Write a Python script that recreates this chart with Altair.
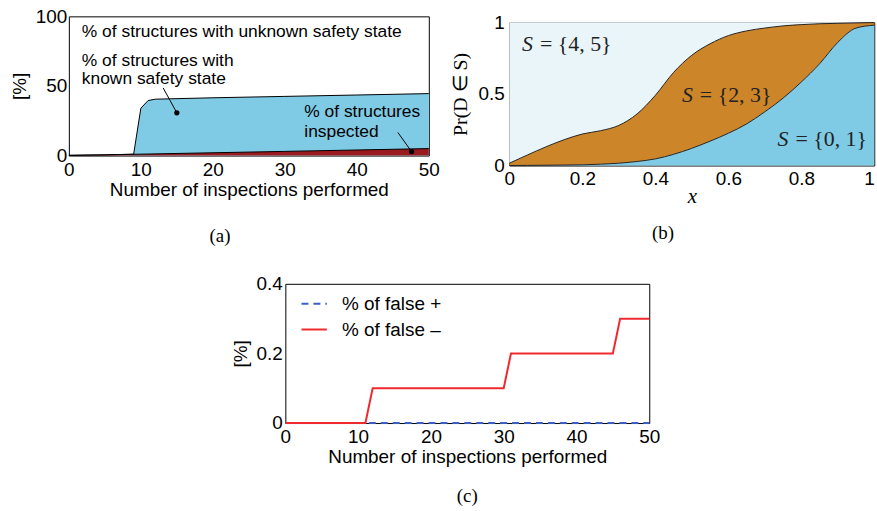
import altair as alt
import pandas as pd

# ---------------- data ----------------
# (a) structures
a_x = [0, 5, 9, 10, 11, 12, 20, 30, 40, 50]
a_known = [0.3, 0.5, 1.0, 34.0, 39.5, 40.5, 41.5, 42.5, 43.5, 44.5]
a_insp_x = [0, 10, 20, 30, 40, 50]
a_insp = [0.0, 1.0, 2.0, 3.0, 4.0, 5.0]
a_ann_text = ["% of structures with unknown safety state", "% of structures with",
              "known safety state", "% of structures", "inspected"]
a_ann_x = [1.8, 1.8, 1.8, 32.7, 32.7]
a_ann_y = [88.6, 67.9, 55.3, 31.4, 17.1]
a_lead_x = [13.1, 45.7]
a_lead_y = [48.6, 16.6]
a_lead_x2 = [15.0, 47.6]
a_lead_y2 = [30.7, 2.9]

# (b) probabilities
b_x = [0, 0.05, 0.1, 0.15, 0.2, 0.25, 0.3, 0.35, 0.4, 0.45, 0.5,
       0.55, 0.6, 0.65, 0.7, 0.75, 0.8, 0.85, 0.9, 0.95, 1.0]
b_low = [0, 0.001, 0.002, 0.003, 0.005, 0.009, 0.016, 0.028, 0.046, 0.078, 0.12,
         0.17, 0.225, 0.29, 0.375, 0.47, 0.583, 0.71, 0.86, 0.96, 0.98]
b_up = [0.016, 0.074, 0.13, 0.18, 0.22, 0.243, 0.28, 0.36, 0.49, 0.65, 0.77,
        0.85, 0.907, 0.94, 0.96, 0.975, 0.984, 0.99, 0.993, 0.996, 0.998]
b_lab_rest = ["= {4, 5}", "= {2, 3}", "= {0, 1}"]
b_lab_x = [0.035, 0.473, 0.735]
b_lab_y = [0.845, 0.49, 0.185]

# (c) false +/-
c_x = [0, 11, 12, 30, 31, 45, 46, 50]
c_fneg = [0, 0, 0.1, 0.1, 0.2, 0.2, 0.3, 0.3]
c_fpos_x = [0, 50]
c_fpos = [0, 0]
c_series = ["% of false +", "% of false \u2013"]

# ---------------- styles ----------------
LB = "#7fcbe6"
DRED = "#9a1b1f"
ORANGE = "#cd852a"
PALE = "#eaf5fa"
RED = "#ee2a2f"
BLUE = "#3b5fc6"
SANS = "Liberation Sans"
SERIF = "Liberation Serif"
FS = 19

def caption(t, dx=0, offset=10):
    return alt.TitleParams(t, orient="bottom", font=SERIF, fontSize=19, fontWeight="normal",
                           color="black", offset=offset, dx=dx)

# ---------------- (a) ----------------
dfA = pd.DataFrame({"x": a_x, "known": a_known})
dfI = pd.DataFrame({"x": a_insp_x, "insp": a_insp})
dfAnn = pd.DataFrame({"x": a_ann_x, "y": a_ann_y, "t": a_ann_text})
dfLead = pd.DataFrame({"x": a_lead_x, "y": a_lead_y, "x2": a_lead_x2, "y2": a_lead_y2})

xA = alt.X("x:Q", scale=alt.Scale(domain=[0, 50], nice=False),
           axis=alt.Axis(values=[0, 10, 20, 30, 40, 50], title="Number of inspections performed",
                         labelPadding=5, titlePadding=1, labelFlush=False))
yScaleA = alt.Scale(domain=[0, 100], nice=False)
yAxisA = alt.Axis(values=[0, 50, 100], title="[%]", labelPadding=2, titlePadding=6)

knownA = alt.Chart(dfA).mark_area(color=LB, opacity=1, fillOpacity=1,
                                  line={"color": "black", "strokeWidth": 1}).encode(
    x=xA, y=alt.Y("known:Q", scale=yScaleA, axis=yAxisA))
inspA = alt.Chart(dfI).mark_area(color=DRED, opacity=1, fillOpacity=1,
                                 line={"color": "black", "strokeWidth": 1}).encode(
    x="x:Q", y="insp:Q")
textA = alt.Chart(dfAnn).mark_text(align="left", baseline="middle", font=SANS, fontSize=17.5,
                                   color="black").encode(x="x:Q", y="y:Q", text="t:N")
leadA = alt.Chart(dfLead).mark_rule(color="black", strokeWidth=1).encode(
    x="x:Q", y="y:Q", x2="x2:Q", y2="y2:Q")
dotA = alt.Chart(dfLead).mark_point(filled=True, color="black", size=28, opacity=1).encode(
    x="x2:Q", y="y2:Q")

A = alt.layer(knownA, inspA, leadA, dotA, textA).properties(
    width=362, height=140, title=caption("(a)", dx=-29, offset=28))

# ---------------- (b) ----------------
dfB = pd.DataFrame({"x": b_x, "low": b_low, "up": b_up, "one": [1.0] * len(b_x)})
dfBL = pd.DataFrame({"x": b_lab_x, "y": b_lab_y, "rest": b_lab_rest, "s": ["S"] * 3})

xB = alt.X("x:Q", scale=alt.Scale(domain=[0, 1], nice=False),
           axis=alt.Axis(values=[0, 0.2, 0.4, 0.6, 0.8, 1], format="~g", title="x",
                         titleFont=SERIF, titleFontStyle="italic", titleFontSize=21,
                         labelPadding=4, titlePadding=-3, labelFlush=False,
                         labelAlign=alt.ExprRef("datum.value == 1 ? 'right' : 'center'")))
yScaleB = alt.Scale(domain=[0, 1], nice=False)
yAxisB = alt.Axis(values=[0, 0.5, 1], format="~g", title="Pr(D \u2208 S)", titleFont=SERIF,
                  titleFontSize=20, labelPadding=5, titlePadding=8)

topB = alt.Chart(dfB).mark_area(color=PALE, opacity=1, interpolate="monotone").encode(
    x=xB, y=alt.Y("up:Q", scale=yScaleB, axis=yAxisB), y2="one:Q")
midB = alt.Chart(dfB).mark_area(color=ORANGE, opacity=1, interpolate="monotone").encode(
    x="x:Q", y="low:Q", y2="up:Q")
lowB = alt.Chart(dfB).mark_area(color=LB, opacity=1, interpolate="monotone").encode(
    x="x:Q", y="low:Q")
lineUp = alt.Chart(dfB).mark_line(color="#222222", strokeWidth=1, interpolate="monotone").encode(
    x="x:Q", y="up:Q")
lineLow = alt.Chart(dfB).mark_line(color="#222222", strokeWidth=1, interpolate="monotone").encode(
    x="x:Q", y="low:Q")
sB = alt.Chart(dfBL).mark_text(align="left", baseline="middle", font=SERIF, fontStyle="italic",
                               fontSize=22, color="#222222").encode(x="x:Q", y="y:Q", text="s:N")
restB = alt.Chart(dfBL).mark_text(align="left", baseline="middle", font=SERIF, fontSize=22,
                                  dx=18, color="#222222").encode(x="x:Q", y="y:Q", text="rest:N")

B = alt.layer(topB, midB, lowB, lineUp, lineLow, sB, restB).properties(
    width=367, height=144, title=caption("(b)", dx=-29, offset=18))

# small empty spacer so panel (b) sits a little lower than panel (a)
spacer = alt.Chart(pd.DataFrame({"v": [0]})).mark_point(opacity=0).encode(
    x=alt.value(0), y=alt.value(0)
).properties(width=1, height=1, view=alt.ViewConfig(strokeOpacity=0))
Bw = alt.vconcat(spacer, B, spacing=-7)

# ---------------- (c) ----------------
dfPos = pd.DataFrame({"x": c_fpos_x, "v": c_fpos, "s": [c_series[0]] * 2})
dfNeg = pd.DataFrame({"x": c_x, "v": c_fneg, "s": [c_series[1]] * len(c_x)})

legC = alt.Legend(title=None, orient="none", legendX=15, legendY=6,
                  symbolType="stroke", symbolSize=650, symbolStrokeWidth=2,
                  labelFont=SANS, labelFontSize=19, labelOffset=14,
                  rowPadding=2, labelColor="black", padding=0)
colorC = alt.Color("s:N", scale=alt.Scale(domain=c_series, range=[BLUE, RED]), legend=legC)
dashC = alt.StrokeDash("s:N", scale=alt.Scale(domain=c_series, range=[[7, 5], [1, 0]]),
                       legend=legC)
xC = alt.X("x:Q", scale=alt.Scale(domain=[0, 50], nice=False),
           axis=alt.Axis(values=[0, 10, 20, 30, 40, 50], title="Number of inspections performed",
                         labelPadding=5, titlePadding=1, labelFlush=False))
yC = alt.Y("v:Q", scale=alt.Scale(domain=[0, 0.4], nice=False),
           axis=alt.Axis(values=[0, 0.2, 0.4], format="~g", title="[%]", labelPadding=3,
                         titlePadding=6))

posC = alt.Chart(dfPos).mark_line(strokeWidth=2).encode(x=xC, y=yC, color=colorC, strokeDash=dashC)
negC = alt.Chart(dfNeg).mark_line(strokeWidth=2).encode(x="x:Q", y="v:Q", color=colorC,
                                                         strokeDash=dashC)
C = alt.layer(posC, negC).properties(width=366, height=140, title=caption("(c)", offset=20))

top = alt.hconcat(A, Bw, spacing=9)
chart = alt.vconcat(top, C, spacing=27, center=True).resolve_scale(
    color="independent", strokeDash="independent"
).properties(
    padding={"left": 10, "top": 5, "right": 0, "bottom": 0}, background="white"
).configure_view(stroke="black", strokeWidth=1).configure_axis(
    labelFont=SANS, labelFontSize=FS, titleFont=SANS, titleFontSize=FS, titleFontWeight="normal",
    labelColor="black", titleColor="black", ticks=False, domain=False, grid=False
)

chart.save("out.html", embed_options={"renderer": "svg", "actions": False})
